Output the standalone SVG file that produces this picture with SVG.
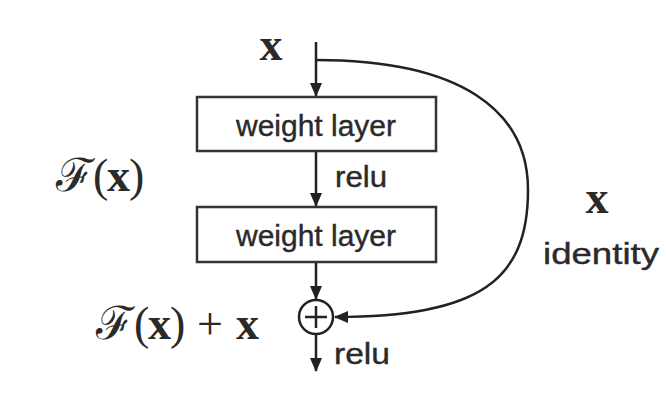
<svg xmlns="http://www.w3.org/2000/svg" width="666" height="416" viewBox="0 0 666 416">
<defs>
<style>
.ln{fill:none;stroke:#222;stroke-width:2.5}
.box{fill:#fff;stroke:#333;stroke-width:2.5}
.lbl{font-family:"Liberation Sans",Arial,sans-serif;font-size:30px;fill:#2a2a2a;stroke:#2a2a2a;stroke-width:0.4}
.math{font-family:"Liberation Serif","DejaVu Serif",serif;font-size:46px;fill:#2a2a2a}
.bx{font-weight:bold}
</style>
<marker id="ah" viewBox="0 0 14 12" refX="13" refY="6" markerWidth="14" markerHeight="12" markerUnits="userSpaceOnUse" orient="auto">
<path d="M0,0 L14,6 L0,12 z" fill="#222"/>
</marker>
</defs>
<rect width="666" height="416" fill="#fff"/>
<g id="connectors">
<line class="ln" x1="316" y1="42" x2="316" y2="96" marker-end="url(#ah)"/>
<line class="ln" x1="316" y1="151" x2="316" y2="206" marker-end="url(#ah)"/>
<line class="ln" x1="316" y1="262" x2="316" y2="299" marker-end="url(#ah)"/>
<line class="ln" x1="316" y1="335" x2="316" y2="371" marker-end="url(#ah)"/>
<path class="ln" d="M316,60 C460,60 528,110 528,190 C528,280 480,317 335,317" marker-end="url(#ah)"/>
</g>
<g id="x-input">
<text class="math bx" x="271" y="60" font-size="38" text-anchor="middle">x</text>
</g>
<g id="weight-layer-1">
<rect class="box" x="197" y="97" width="239" height="54"/>
<text class="lbl" x="316" y="136" text-anchor="middle" textLength="160" lengthAdjust="spacingAndGlyphs">weight layer</text>
</g>
<text class="lbl" x="335" y="187" textLength="52" lengthAdjust="spacingAndGlyphs">relu</text>
<g id="weight-layer-2">
<rect class="box" x="197" y="207" width="239" height="55"/>
<text class="lbl" x="316" y="246" text-anchor="middle" textLength="160" lengthAdjust="spacingAndGlyphs">weight layer</text>
</g>
<g id="sum">
<circle class="ln" cx="316" cy="317" r="17"/>
<line class="ln" x1="305" y1="317" x2="327" y2="317"/>
<line class="ln" x1="316" y1="306" x2="316" y2="328"/>
</g>
<text class="lbl" x="334" y="364" textLength="56" lengthAdjust="spacingAndGlyphs">relu</text>
<g id="Fx-label">
<text class="math" x="56" y="191">ℱ</text>
<text class="math" x="93" y="191">(</text>
<text class="math bx" x="107" y="191">x</text>
<text class="math" x="129" y="191">)</text>
</g>
<g id="Fx-plus-x-label">
<text class="math" x="96" y="339">ℱ</text>
<text class="math" x="134" y="339">(</text>
<text class="math bx" x="148" y="339">x</text>
<text class="math" x="170" y="339">)</text>
<text class="math" x="197" y="339">+</text>
<text class="math bx" x="236" y="339">x</text>
</g>
<g id="identity-label">
<text class="math bx" x="597" y="213" font-size="42" text-anchor="middle">x</text>
<text class="lbl" x="543" y="264" font-size="32" textLength="116" lengthAdjust="spacingAndGlyphs">identity</text>
</g>
</svg>
